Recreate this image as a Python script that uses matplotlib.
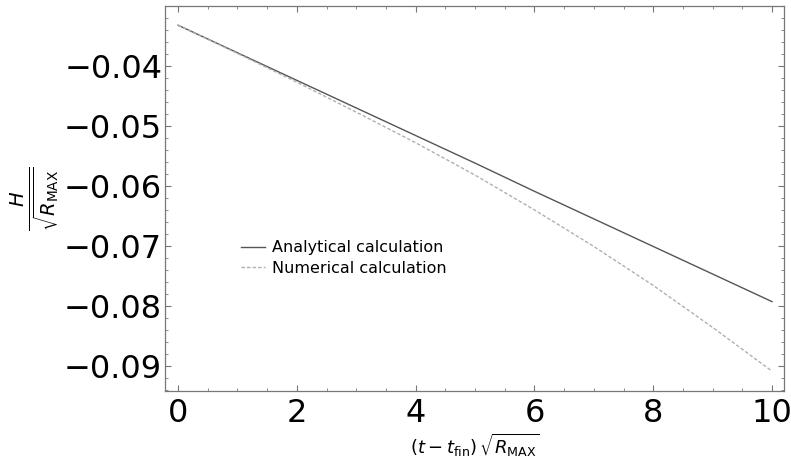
import matplotlib.pyplot as plt
from matplotlib.ticker import MultipleLocator

# values
t_vals = [0, 1, 2, 3, 4, 5, 6, 7, 8, 9, 10]
h_analytical = [-0.0332, -0.0378, -0.0424, -0.0470, -0.0516, -0.0562,
                -0.0609, -0.0655, -0.0701, -0.0747, -0.0793]
h_numerical = [-0.0332, -0.0379, -0.0427, -0.0477, -0.0528, -0.0582,
               -0.0640, -0.0701, -0.0766, -0.0836, -0.0909]

x_ticks = [0, 2, 4, 6, 8, 10]
y_ticks = [-0.09, -0.08, -0.07, -0.06, -0.05, -0.04]

fig = plt.figure(figsize=(7.91, 4.63), dpi=100)
ax = fig.add_axes([0.2086, 0.1555, 0.7825, 0.8315])

ax.plot(t_vals, h_analytical, color='#555555', lw=1.0, label='Analytical calculation')
ax.plot(t_vals, h_numerical, color='#b0b0b0', lw=1.0, ls=(0, (2.5, 1.5)),
        label='Numerical calculation')

ax.set_xlim(-0.22, 10.2)
ax.set_ylim(-0.0942, -0.030)
ax.set_xticks(x_ticks)
ax.set_yticks(y_ticks)
ax.set_yticklabels(['\u22120.09', '\u22120.08', '\u22120.07', '\u22120.06', '\u22120.05', '\u22120.04'])
ax.xaxis.set_minor_locator(MultipleLocator(0.5))
ax.yaxis.set_minor_locator(MultipleLocator(0.002))
ax.tick_params(which='both', direction='in', top=True, right=True, color='#777777',
               labelsize=23)
ax.tick_params(axis='y', pad=2)
ax.tick_params(axis='x', pad=5)
ax.tick_params(which='major', length=4, width=0.8)
ax.tick_params(which='minor', length=2, width=0.6)
for sp in ax.spines.values():
    sp.set_color('#777777')
    sp.set_linewidth(0.9)

ax.set_xlabel(r'$(t-t_{\rm fin})\,\sqrt{R_{\rm MAX}}$', fontsize=13, labelpad=2)
ax.set_ylabel(r'$\frac{H}{\sqrt{R_{\rm MAX}}}$', fontsize=20, labelpad=2)

ax.legend(loc='center left', bbox_to_anchor=(0.1, 0.345), frameon=False,
          fontsize=11.5, handlelength=1.5, handletextpad=0.4, labelspacing=0.35)

fig.savefig('out.png', dpi=100)
